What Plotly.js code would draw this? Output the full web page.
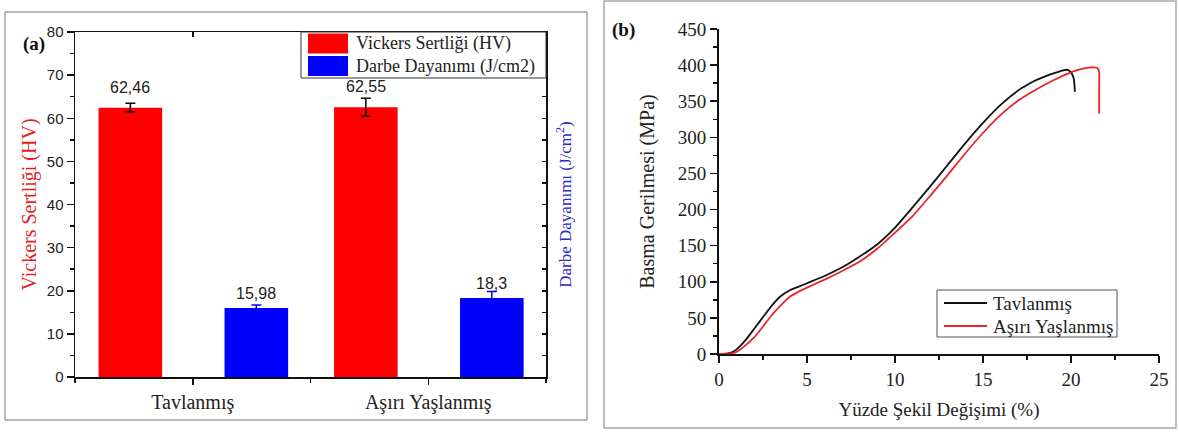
<!DOCTYPE html>
<html><head><meta charset="utf-8">
<script src="https://cdn.plot.ly/plotly-3.0.1.min.js"></script>
<style>html,body{margin:0;padding:0;background:#fff}#chart{width:1179px;height:432px}</style>
</head><body><div id="chart"></div>
<script>
// ---- Panel (a) data ----
const categories = ['Tavlanmış', 'Aşırı Yaşlanmış'];
const hardness = [62.46, 62.55];
const hardnessErr = [1.0, 2.1];
const impact = [15.98, 18.3];
const impactErr = [0.7, 1.5];
const namesA = ['Vickers Sertliği (HV)', 'Darbe Dayanımı (J/cm2)'];

// ---- Panel (b) data ----
const strainTav = [0, 0.4, 0.8, 1.2, 1.6, 2.0, 2.5, 3.0, 3.5, 4.0, 4.5, 5.0, 6.0, 7.0, 8.0, 9.0, 10.0, 11.0, 12.0, 13.0, 14.0, 15.0, 16.0, 17.0, 17.5, 18.0, 18.5, 19.0, 19.5, 19.8, 20.0, 20.15, 20.2, 20.22];
const stressTav = [0, 0.5, 3, 11, 22, 35, 51, 67, 80, 88, 93, 98, 108, 120, 135, 152, 175, 203, 232, 262, 292, 320, 345, 365, 372.5, 379, 384, 388.5, 392.5, 393.5, 390, 382, 372, 363];
const strainAsiri = [0, 0.5, 0.9, 1.2, 1.6, 2.0, 2.5, 3.0, 3.5, 4.0, 4.5, 5.0, 6.0, 7.0, 8.0, 9.0, 10.0, 11.0, 12.0, 13.0, 14.0, 15.0, 16.0, 17.0, 18.0, 19.0, 20.0, 20.5, 21.0, 21.3, 21.5, 21.6, 21.6, 21.6];
const stressAsiri = [0, 0.3, 2, 6, 14, 23, 38, 54, 67, 79, 86, 92, 103, 115, 128, 146, 168, 191, 219, 248, 278, 306, 331, 351, 366, 379, 390, 394, 396.5, 397, 396, 390, 370, 333];
const namesB = ['Tavlanmış', 'Aşırı Yaşlanmış'];

const SERIF = 'Liberation Serif, Times New Roman, serif';
const SANS = 'Liberation Sans, Arial, sans-serif';
const RED = '#ff0000', BLUE = '#0000ff';
const LINE_T = '#111111', LINE_A = '#e8262a';
const W = 1179, H = 432;
const px = v => v / W, py = v => (H - v) / H;

const BAR_W = 0.27, RED_OFF = -0.4, BLUE_OFF = 0.135;
const fmt = v => String(v).replace('.', ',');

const traces = [
  {type: 'bar', x: categories, y: hardness, name: namesA[0], xaxis: 'x', yaxis: 'y',
   width: BAR_W, offset: RED_OFF, marker: {color: RED},
   error_y: {type: 'data', array: hardnessErr, visible: true, color: '#000', thickness: 1.5, width: 5}},
  {type: 'bar', x: categories, y: impact, name: namesA[1], xaxis: 'x', yaxis: 'y2',
   width: BAR_W, offset: BLUE_OFF, marker: {color: BLUE},
   error_y: {type: 'data', array: impactErr, visible: true, color: BLUE, thickness: 1.5, width: 5}},
  {type: 'scatter', mode: 'lines', x: [], y: [], xaxis: 'x3', yaxis: 'y', hoverinfo: 'skip'},
  {type: 'scatter', mode: 'lines', x: [], y: [], xaxis: 'x4', yaxis: 'y', hoverinfo: 'skip'},
  {type: 'scatter', mode: 'lines', x: strainTav, y: stressTav, name: namesB[0], xaxis: 'x2', yaxis: 'y3',
   line: {color: LINE_T, width: 1.8, shape: 'spline', smoothing: 0.6}},
  {type: 'scatter', mode: 'lines', x: strainAsiri, y: stressAsiri, name: namesB[1], xaxis: 'x2', yaxis: 'y3',
   line: {color: LINE_A, width: 1.8, shape: 'spline', smoothing: 0.5}}
];

const annotations = [];
categories.forEach((c, i) => {
  annotations.push({x: i + RED_OFF + BAR_W / 2, y: hardness[i], xref: 'x', yref: 'y', text: fmt(hardness[i]),
    showarrow: false, yanchor: 'bottom', yshift: 10, font: {family: SANS, size: 16, color: '#222'}});
  annotations.push({x: i + BLUE_OFF + BAR_W / 2, y: impact[i], xref: 'x', yref: 'y2', text: fmt(impact[i]),
    showarrow: false, yanchor: 'bottom', yshift: 4, font: {family: SANS, size: 16, color: '#222'}});
});
annotations.push({x: px(21), y: py(31), xref: 'paper', yref: 'paper', text: '<b>(a)</b>', showarrow: false,
  font: {family: SERIF, size: 19, color: '#111'}});
annotations.push({x: px(623), y: py(17), xref: 'paper', yref: 'paper', text: '<b>(b)</b>', showarrow: false,
  font: {family: SERIF, size: 19, color: '#111'}});

// legend boxes (drawn as shapes + text)
const legA = {x: 301, y: 32, w: 245, h: 46, rows: [43.5, 66], sw: [308, 348]};
const legB = {x: 937, y: 290, w: 180, h: 47, rows: [303, 326], sw: [944, 987]};
const shapes = [
  {type: 'rect', xref: 'paper', yref: 'paper', x0: px(5), x1: px(587), y0: py(420), y1: py(12),
   line: {color: '#a8a8a8', width: 1.5}, layer: 'below'},
  {type: 'rect', xref: 'paper', yref: 'paper', x0: px(604), x1: px(1176), y0: py(428), y1: py(1),
   line: {color: '#a8a8a8', width: 1.5}, layer: 'below'},
  {type: 'rect', xref: 'paper', yref: 'paper', x0: px(legA.x), x1: px(legA.x + legA.w), y0: py(legA.y + legA.h), y1: py(legA.y),
   line: {color: '#333', width: 1}, fillcolor: '#fff', layer: 'above'},
  {type: 'rect', xref: 'paper', yref: 'paper', x0: px(legB.x), x1: px(legB.x + legB.w), y0: py(legB.y + legB.h), y1: py(legB.y),
   line: {color: '#555', width: 1}, fillcolor: '#fff', layer: 'above'}
];
[RED, BLUE].forEach((col, k) => {
  const cy = legA.rows[k];
  shapes.push({type: 'rect', xref: 'paper', yref: 'paper', x0: px(legA.sw[0]), x1: px(legA.sw[1]),
    y0: py(cy + 10), y1: py(cy - 10), line: {width: 0}, fillcolor: col, layer: 'above'});
  annotations.push({x: px(legA.sw[1] + 6), y: py(cy), xref: 'paper', yref: 'paper', xanchor: 'left', yanchor: 'middle',
    text: namesA[k], showarrow: false, font: {family: SERIF, size: 18, color: '#222'}});
});
[LINE_T, LINE_A].forEach((col, k) => {
  const cy = legB.rows[k];
  shapes.push({type: 'line', xref: 'paper', yref: 'paper', x0: px(legB.sw[0]), x1: px(legB.sw[1]),
    y0: py(cy), y1: py(cy), line: {color: col, width: 1.8}, layer: 'above'});
  annotations.push({x: px(legB.sw[1] + 4), y: py(cy), xref: 'paper', yref: 'paper', xanchor: 'left', yanchor: 'middle',
    text: namesB[k], showarrow: false, font: {family: SERIF, size: 19, color: '#222'}});
});

const axLine = {showline: true, linecolor: '#111', linewidth: 1.5, showgrid: false, zeroline: false};
const domAx = [px(75), px(546)], domAy = [py(377), py(32)];
const domBx = [px(719), px(1159)], domBy = [py(354), py(29)];

const layout = {
  width: W, height: H, margin: {l: 0, r: 0, t: 0, b: 0},
  paper_bgcolor: '#fff', plot_bgcolor: 'rgba(0,0,0,0)',
  barmode: 'overlay', showlegend: false,
  xaxis: Object.assign({}, axLine, {domain: domAx, anchor: 'y', type: 'category', range: [-0.5, 1.5],
    ticks: 'outside', ticklen: 6, tickwidth: 1.5, tickcolor: '#111',
    tickfont: {family: SERIF, size: 20, color: '#222'}}),
  xaxis3: Object.assign({}, axLine, {overlaying: 'x', side: 'top', anchor: 'y', range: [-0.5, 1.5],
    tickvals: [0, 0.5, 1], ticks: 'inside', ticklen: 5, tickwidth: 1.5, tickcolor: '#111', showticklabels: false}),
  xaxis4: {overlaying: 'x', side: 'bottom', anchor: 'y', range: [-0.5, 1.5], showline: false, showgrid: false, zeroline: false,
    tickvals: [-0.5, 0.5, 1.5], ticks: 'outside', ticklen: 5, tickwidth: 1.5, tickcolor: '#111', showticklabels: false},
  yaxis: Object.assign({}, axLine, {domain: domAy, anchor: 'x', range: [0, 80], dtick: 10,
    ticks: 'outside', ticklen: 7, tickwidth: 1.5, tickcolor: '#111',
    minor: {dtick: 5, ticks: 'outside', ticklen: 4, tickwidth: 1.5, tickcolor: '#111'},
    tickfont: {family: SANS, size: 15, color: '#222'},
    title: {text: 'Vickers Sertliği (HV)', font: {family: SERIF, size: 20, color: '#e41e26'}, standoff: 5}}),
  yaxis2: Object.assign({}, axLine, {overlaying: 'y', side: 'right', anchor: 'x', range: [0, 80], dtick: 5,
    ticks: 'inside', ticklen: 4, tickwidth: 1.5, tickcolor: '#111', showticklabels: false,
    title: {text: 'Darbe Dayanımı (J/cm<sup>2</sup>)', font: {family: SERIF, size: 17, color: '#2a2ac4'}, standoff: 12}}),
  xaxis2: Object.assign({}, axLine, {domain: domBx, anchor: 'y3', range: [0, 25], dtick: 5, linewidth: 2,
    ticks: 'outside', ticklen: 7, tickwidth: 1.5, tickcolor: '#111',
    minor: {dtick: 2.5, ticks: 'outside', ticklen: 4, tickwidth: 1.5, tickcolor: '#111'},
    tickfont: {family: SERIF, size: 19, color: '#222'},
    title: {text: 'Yüzde Şekil Değişimi (%)', font: {family: SERIF, size: 19, color: '#222'}, standoff: 14}}),
  yaxis3: Object.assign({}, axLine, {domain: domBy, anchor: 'x2', range: [0, 450], dtick: 50, linewidth: 2,
    ticks: 'outside', ticklen: 7, tickwidth: 1.5, tickcolor: '#111',
    minor: {dtick: 25, ticks: 'outside', ticklen: 4, tickwidth: 1.5, tickcolor: '#111'},
    tickfont: {family: SERIF, size: 19, color: '#222'},
    title: {text: 'Basma Gerilmesi (MPa)', font: {family: SERIF, size: 20, color: '#222'}, standoff: 18}}),
  annotations: annotations,
  shapes: shapes
};

Plotly.newPlot('chart', traces, layout, {displayModeBar: false, staticPlot: true});
</script></body></html>
